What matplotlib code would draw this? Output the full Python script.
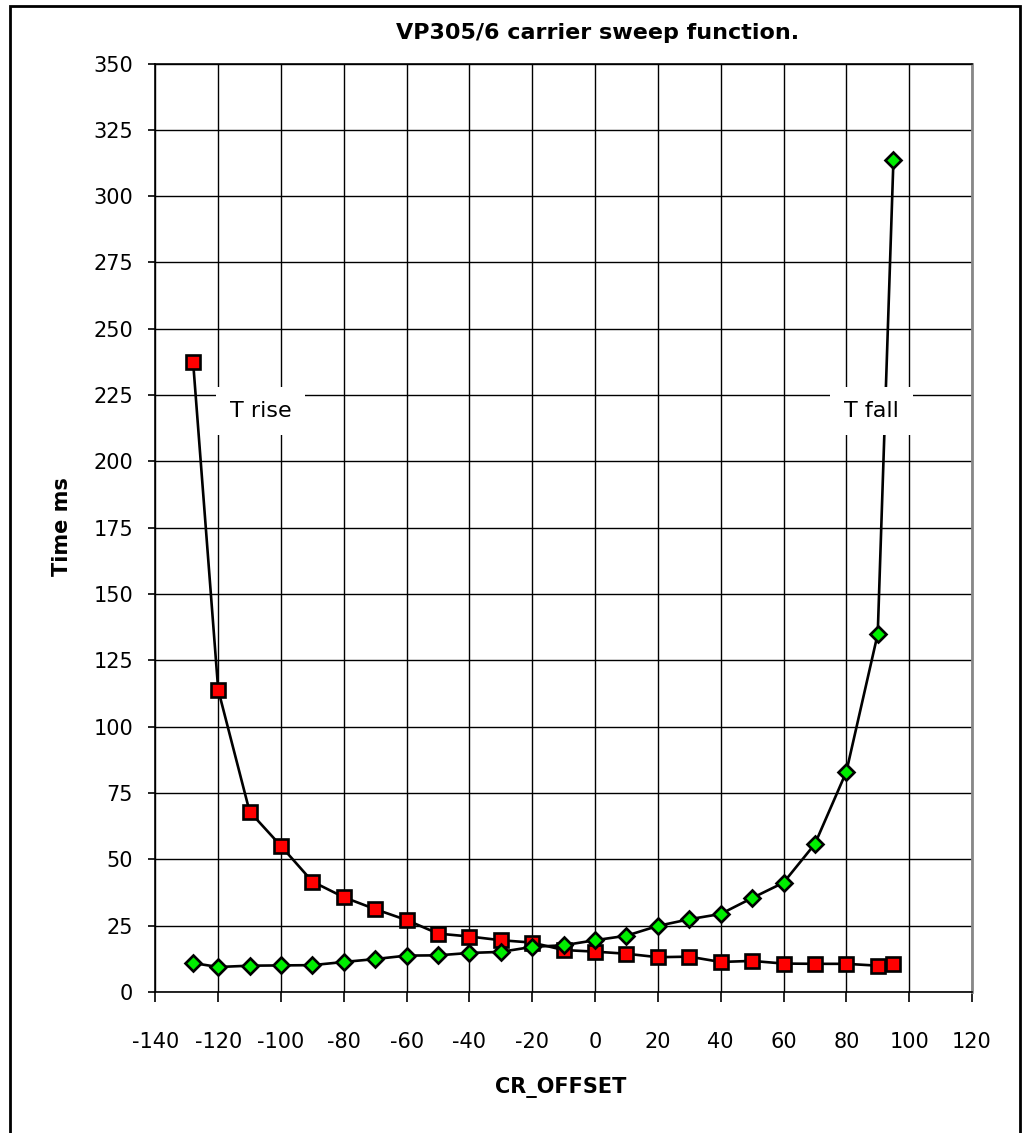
import numpy as np
from matplotlib import pyplot as plt
from matplotlib.patches import Rectangle

# T rise (red squares)
rise_x = [-128, -120, -110, -100, -90, -80, -70, -60, -50, -40, -30, -20, -10, 0,
          10, 20, 30, 40, 50, 60, 70, 80, 90, 95]
rise_y = [237.6, 113.9, 68.0, 55.0, 41.6, 35.7, 31.2, 27.1, 22.0, 20.9, 19.5, 18.6, 15.8, 15.2,
          14.4, 13.1, 13.3, 11.3, 11.7, 10.7, 10.6, 10.6, 9.9, 10.4]

# T fall (green diamonds)
fall_x = [-128, -120, -110, -100, -90, -80, -70, -60, -50, -40, -30, -20, -10, 0,
          10, 20, 30, 40, 50, 60, 70, 80, 90, 95]
fall_y = [10.9, 9.4, 9.9, 10.0, 10.1, 11.3, 12.4, 13.7, 13.8, 14.7, 15.1, 17.0, 17.6, 19.5,
          21.2, 24.9, 27.4, 29.4, 35.4, 41.2, 55.8, 83.0, 135.0, 313.7]

xticks = np.arange(-140, 121, 20)
yticks = np.arange(0, 351, 25)

plt.rcParams['font.family'] = ['DejaVu Sans']
plt.rcParams['axes.unicode_minus'] = False

fig = plt.figure(figsize=(10.23, 11.33), dpi=100)
ax = fig.add_axes([0.1519, 0.1245, 0.7982, 0.8194])

ax.plot(rise_x, rise_y, color='black', lw=1.9, marker='s', ms=10.5,
        mfc='#ff0000', mec='black', mew=1.9, zorder=3)
ax.plot(fall_x, fall_y, color='black', lw=1.9, marker='D', ms=8.5,
        mfc='#00ee00', mec='black', mew=1.9, zorder=4)

ax.set_xlim(-140, 120)
ax.set_ylim(0, 350)
ax.set_xticks(xticks)
ax.set_yticks(yticks)
ax.grid(True, color='black', lw=1.0)
ax.set_axisbelow(True)

ax.tick_params(axis='x', direction='out', length=7, width=1.2, pad=22, labelsize=15)
ax.tick_params(axis='y', direction='out', length=5, width=1.2, pad=11, labelsize=15)

for s in ['left', 'bottom', 'top']:
    ax.spines[s].set_color('black')
    ax.spines[s].set_linewidth(1.2)
ax.spines['right'].set_color('#888888')
ax.spines['right'].set_linewidth(2)

ax.text(-106.5, 219, 'T rise', fontsize=16, ha='center', va='center',
        bbox=dict(facecolor='white', edgecolor='none', pad=10), zorder=5)
ax.text(88, 219, 'T fall', fontsize=16, ha='center', va='center',
        bbox=dict(facecolor='white', edgecolor='none', pad=10), zorder=5)

fig.text(0.584, 0.971, 'VP305/6 carrier sweep function.', fontsize=16,
         fontweight='bold', ha='center', va='center')
fig.text(0.061, 0.535, 'Time ms', fontsize=15, fontweight='bold',
         rotation=90, ha='center', va='center')
fig.text(0.548, 0.040, 'CR_OFFSET', fontsize=15, fontweight='bold',
         ha='center', va='center')

# outer frame of the chart area
fig.patches.append(Rectangle((0.0098, -0.01), 0.987, 1.005, transform=fig.transFigure,
                             fill=False, edgecolor='black', lw=2.0))

fig.savefig('out.png', dpi=100)
